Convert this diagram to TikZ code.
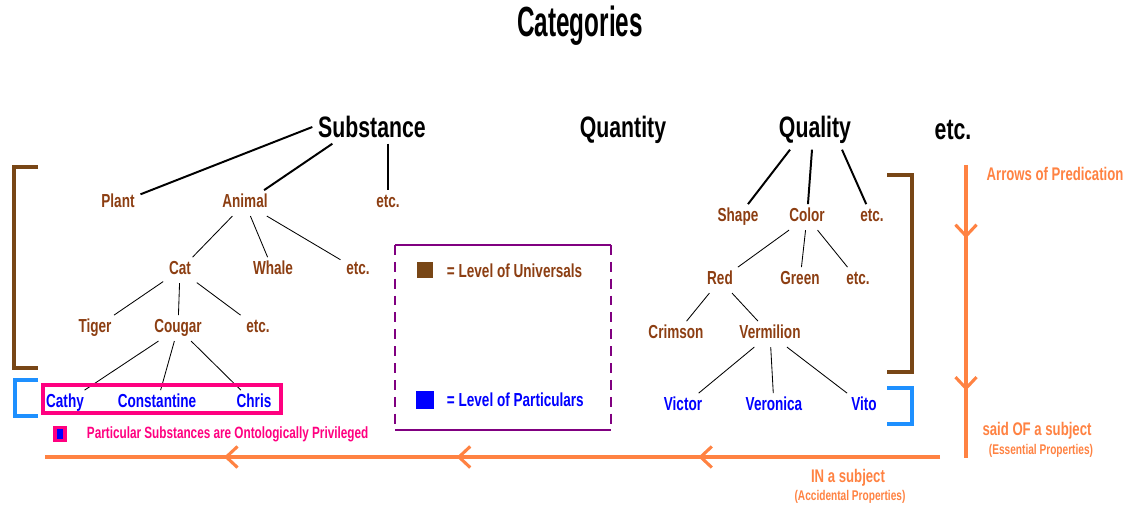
\documentclass[tikz,border=0pt]{standalone}
\usepackage{fontspec}
\setmainfont{Liberation Sans}[FakeStretch=0.72]
\usetikzlibrary{arrows.meta, decorations.markings}

\definecolor{univc}{RGB}{140,62,18}
\definecolor{bracketc}{RGB}{120,70,22}
\definecolor{partc}{RGB}{0,0,255}
\definecolor{partbrc}{RGB}{30,144,255}
\definecolor{privc}{RGB}{255,0,128}
\definecolor{predc}{RGB}{255,130,66}
\definecolor{framec}{RGB}{128,0,128}

\begin{document}
\begin{tikzpicture}[x=0.025cm, y=-0.025cm,
    top/.style = {font=\fontsize{21}{23}\selectfont\bfseries, inner sep=4pt},
    univ/.style = {text=univc, font=\fontsize{13.4}{15}\selectfont\bfseries, inner sep=4pt, text height=1.6ex, text depth=.3ex, yshift=-1.5pt},
    part/.style = {text=partc, font=\fontsize{13.4}{15}\selectfont\bfseries, inner sep=4pt, text height=1.6ex, text depth=.3ex, yshift=-1.5pt},
    note/.style = {text=predc, font=\fontsize{13}{15}\selectfont\bfseries, inner sep=1pt},
    small/.style = {text=predc, font=\fontsize{10}{11}\selectfont\bfseries, inner sep=1pt},
    major/.style = {line width=1.4pt},
    minor/.style = {line width=0.6pt},
    pred/.style = {predc, line width=2.6pt, postaction={decorate}}]
    \useasboundingbox (0,0) rectangle (1130,510);

    % title and top categories
    \node[font=\fontsize{30}{32}\selectfont\bfseries, xscale=0.8, transform shape] (title) at (580,26) {Categories};
    \node[top] (sub) at (372,127) {Substance};
    \node[top] (quant) at (623,130) {Quantity};
    \node[top] (qual) at (815,130) {Quality};
    \node[top] (etc) at (953,130) {etc.};

    % substance tree
    \node[univ] (plant) at (118,201) {Plant};
    \node[univ] (animal) at (245,201) {Animal};
    \node[univ] (subetc) at (388,201) {etc.};
    \node[univ] (cat) at (180,268) {Cat};
    \node[univ] (whale) at (273,268) {Whale};
    \node[univ] (animetc) at (358,268) {etc.};
    \node[univ] (tiger) at (95,326) {Tiger};
    \node[univ] (cougar) at (178,326) {Cougar};
    \node[univ] (catetc) at (258,326) {etc.};
    \node[part] (cathy) at (65,401) {Cathy};
    \node[part] (constantine) at (157,401) {Constantine};
    \node[part] (chris) at (254,401) {Chris};

    \draw[major] (sub.west) -- (plant);
    \draw[major] (sub.south west) ++(20,0) -- (animal);
    \draw[major] (sub.south) ++(16,0) -- (subetc);
    \draw[minor] (animal) -- (cat);
    \draw[minor] (animal) -- (whale);
    \draw[minor] (animal) -- (animetc);
    \draw[minor] (cat) -- (tiger);
    \draw[minor] (cat) -- (cougar);
    \draw[minor] (cat) -- (catetc);
    \draw[minor] (cougar) -- (cathy);
    \draw[minor] (cougar) -- (constantine);
    \draw[minor] (cougar) -- (chris);

    % quality tree
    \node[univ] (shape) at (738,215) {Shape};
    \node[univ] (color) at (807,215) {Color};
    \node[univ] (qualetc) at (872,215) {etc.};
    \node[univ] (red) at (720,278) {Red};
    \node[univ] (green) at (800,278) {Green};
    \node[univ] (coloretc) at (858,278) {etc.};
    \node[univ] (crimson) at (676,332) {Crimson};
    \node[univ] (vermilion) at (770,332) {Vermilion};
    \node[part] (victor) at (683,404) {Victor};
    \node[part] (veronica) at (774,404) {Veronica};
    \node[part] (vito) at (864,404) {Vito};

    \draw[major] (qual.south) ++(-25,0) -- (shape);
    \draw[major] (qual.south) ++(-3,0) -- (color);
    \draw[major] (qual.south) ++(27,0) -- (qualetc);
    \draw[minor] (color) -- (red);
    \draw[minor] (color) -- (green);
    \draw[minor] (color) -- (coloretc);
    \draw[minor] (red) -- (crimson);
    \draw[minor] (red) -- (vermilion);
    \draw[minor] (vermilion) -- (victor);
    \draw[minor] (vermilion) -- (veronica);
    \draw[minor] (vermilion) -- (vito);

    % brackets
    \draw[bracketc, line width=3pt] (38,167) -- (14,167) -- (14,368) -- (38,368);
    \draw[partbrc, line width=3pt] (38,380) -- (15,380) -- (15,416) -- (38,416);
    \draw[bracketc, line width=3pt] (887,175) -- (912,175) -- (912,372) -- (887,372);
    \draw[partbrc, line width=3pt] (887,388) -- (912,388) -- (912,424) -- (887,424);

    % privileged particulars
    \draw[privc, line width=2.6pt] (43,385) rectangle (281,413);
    \node[draw=privc, fill=partc, line width=2.4pt, minimum width=7pt, minimum height=9pt, inner sep=0pt] (privkey) at (60,434) {};
    \node[text=privc, font=\fontsize{11.6}{13}\selectfont\bfseries, anchor=west] (privtext) at (82,434) {Particular Substances are Ontologically Privileged};

    % legend
    \draw[framec, line width=2pt] (395,245) -- (611,245);
    \draw[framec, line width=2pt] (395,430) -- (611,430);
    \draw[framec, line width=2pt, dash pattern=on 7pt off 5pt] (395,245) -- (395,430);
    \draw[framec, line width=2pt, dash pattern=on 7pt off 5pt] (611,245) -- (611,430);
    \node[fill=bracketc, minimum size=12pt, inner sep=0pt] (univkey) at (425,270) {};
    \node[univ, anchor=west] (univtext) at (441,271) {= Level of Universals};
    \node[fill=partc, minimum size=13pt, inner sep=0pt] (partkey) at (425,400) {};
    \node[part, anchor=west] (parttext) at (441,400) {= Level of Particulars};

    % arrows of predication
    \coordinate (predtop) at (966,165);
    \coordinate (predbot) at (966,458);
    \coordinate (inright) at (940,457);
    \coordinate (inleft) at (45,457);
    \draw[pred, decoration={markings,
        mark=at position 0.25 with {\arrow{Straight Barb[length=8pt, width=15pt, line width=2.2pt]}},
        mark=at position 0.77 with {\arrow{Straight Barb[length=8pt, width=15pt, line width=2.2pt]}}}]
        (predtop) -- (predbot);
    \draw[pred, decoration={markings,
        mark=at position 0.27 with {\arrow{Straight Barb[length=8pt, width=15pt, line width=2.2pt]}},
        mark=at position 0.54 with {\arrow{Straight Barb[length=8pt, width=15pt, line width=2.2pt]}},
        mark=at position 0.80 with {\arrow{Straight Barb[length=8pt, width=15pt, line width=2.2pt]}}}]
        (inright) -- (inleft);

    \node[note] (arrowsof) at (1055,174) {Arrows of Predication};
    \node[note] (saidof) at (1037,431) {said OF a subject};
    \node[small] (essential) at (1041,451) {(Essential Properties)};
    \node[note] (insub) at (848,478) {IN a subject};
    \node[small] (accidental) at (850,497) {(Accidental Properties)};
\end{tikzpicture}
\end{document}
